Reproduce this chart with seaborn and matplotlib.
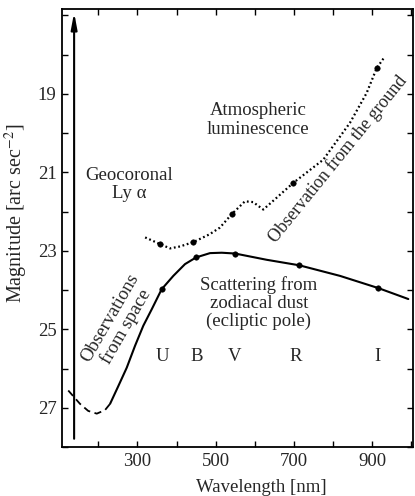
import numpy as np
import pandas as pd
import seaborn as sns
import matplotlib
matplotlib.use("Agg")
import matplotlib.pyplot as plt

# ---- data ----
space_uv_wl = [123, 153, 174, 196, 217, 230]
space_uv_mag = [26.56, 26.90, 27.08, 27.15, 27.06, 26.90]

zodi_wl = [230, 251, 272.6, 293.9, 315, 336.6, 362, 391.8, 421.7, 449.9, 485.7,
           515.6, 549.6, 630.7, 714, 818.2, 916, 993]
zodi_mag = [26.90, 26.45, 25.98, 25.42, 24.91, 24.49, 23.98, 23.64, 23.34, 23.17, 23.06,
            23.05, 23.07, 23.23, 23.37, 23.64, 23.95, 24.23]
zodi_pts_wl = [362, 449.9, 549.6, 714, 916]
zodi_pts_mag = [23.98, 23.17, 23.07, 23.37, 23.95]

ground_wl = [319.7, 358, 383.4, 409, 443, 484.5, 511, 541, 575, 596, 622, 656,
             698.7, 775.4, 843.7, 886.4, 912, 933]
ground_mag = [22.66, 22.83, 22.94, 22.89, 22.78, 22.58, 22.41, 22.07, 21.74, 21.76, 21.95, 21.65,
              21.27, 20.68, 19.74, 18.98, 18.35, 18.05]
ground_pts_wl = [358, 443, 541, 698.7, 912]
ground_pts_mag = [22.83, 22.78, 22.07, 21.27, 18.35]

band_labels = ["U", "B", "V", "R", "I"]
band_wl = [365, 451, 549, 704, 913]

x_major = [300, 500, 700, 900]
y_major = [19, 21, 23, 25, 27]

sns.set_theme(style="ticks")
plt.rcParams["font.family"] = ["Liberation Serif", "DejaVu Serif"]
plt.rcParams["mathtext.fontset"] = "stix"

fig = plt.figure(figsize=(4.15, 4.96), dpi=100)
ax = fig.add_axes([62/415, 1-447/496, (413-62)/415, (447-9)/496])

lc = "black"
sns.lineplot(x=space_uv_wl, y=space_uv_mag, ax=ax, color=lc, lw=1.3,
             linestyle=(0, (4, 2.5)), sort=False, estimator=None)
sns.lineplot(x=zodi_wl, y=zodi_mag, ax=ax, color=lc, lw=1.5, sort=False, estimator=None)
sns.lineplot(x=ground_wl, y=ground_mag, ax=ax, color=lc, lw=1.6,
             linestyle=(0, (0.8, 1.2)), sort=False, estimator=None)
sns.scatterplot(x=zodi_pts_wl, y=zodi_pts_mag, ax=ax, color=lc, s=16, edgecolor=lc, zorder=5)
sns.scatterplot(x=ground_pts_wl, y=ground_pts_mag, ax=ax, color=lc, s=16, edgecolor=lc, zorder=5)

ax.set_xlim(107, 1005)
ax.set_ylim(27.97, 16.84)

ax.set_xticks(x_major)
ax.set_xticks(np.arange(200, 1001, 100), minor=True)
ax.set_yticks(y_major)
ax.set_yticks(np.arange(17, 28.1, 1), minor=True)
ax.tick_params(which="both", direction="in", top=True, right=True, length=4,
               width=1.0, labelsize=13.5, color="black", pad=4)
for s in ax.spines.values():
    s.set_linewidth(1.3)
    s.set_color("black")

ax.set_xlabel("Wavelength [nm]", fontsize=13.5)
ax.set_ylabel("Magnitude [arc sec$^{-2}$]", fontsize=14.5)
ax.xaxis.set_label_coords(0.568, -0.073)
ax.yaxis.set_label_coords(-0.09, 0.534)

# vertical arrow (Ly alpha)
ax.annotate("", xy=(138, 16.93), xytext=(138, 27.79),
            arrowprops=dict(arrowstyle="-|>,head_length=0.8,head_width=0.15",
                            color="black", lw=1.5, shrinkA=0, shrinkB=0))

fs = 13.5
ax.text(278, 21.31, "Geocoronal\nLy α", ha="center", va="center", fontsize=fs, linespacing=1.1)
ax.text(608, 19.67, "Atmospheric\nluminescence", ha="center", va="center", fontsize=fs, linespacing=1.1)
ax.text(812, 20.66, "Observation from the ground", ha="center", va="center",
        fontsize=13, rotation=51, rotation_mode="anchor")
ax.text(251, 24.83, "Observations\nfrom space", ha="center", va="center",
        fontsize=fs, rotation=60, rotation_mode="anchor", linespacing=1.05)
ax.text(611, 24.33, "Scattering from\nzodiacal dust\n(ecliptic pole)", ha="center",
        va="center", fontsize=fs, linespacing=1.05)
for lab, wl in zip(band_labels, band_wl):
    ax.text(wl, 25.7, lab, ha="center", va="center", fontsize=fs)

fig.savefig("out.png", dpi=100, facecolor="white")
